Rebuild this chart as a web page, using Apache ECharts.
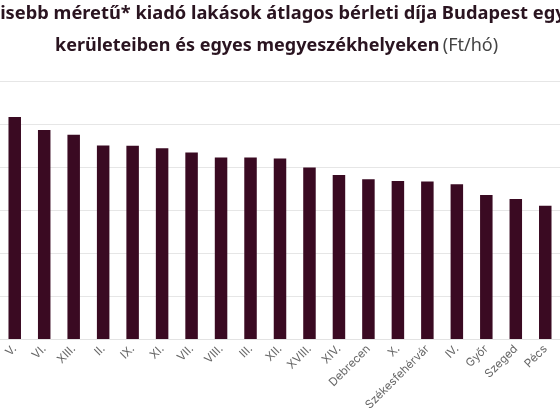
<!DOCTYPE html>
<html><head><meta charset="utf-8">
<script src="https://cdn.jsdelivr.net/npm/echarts@6/dist/echarts.min.js"></script>
<style>html,body{margin:0;padding:0;background:#fff}#c{width:560px;height:420px}</style>
</head><body><div id="c"></div>
<script>
const categories = ['V.','VI.','XIII.','II.','IX.','XI.','VII.','VIII.','III.','XII.','XVIII.','XIV.','Debrecen','X.','Székesfehérvár','IV.','Győr','Szeged','Pécs'];
const rents = [258000,243000,237600,225000,224800,221700,217000,211000,211000,210000,199500,190700,185700,183700,183000,180000,167400,162800,155000];
const chart = echarts.init(document.getElementById('c'));
chart.setOption({
  animation:false,
  graphic:[
    {type:'text',left:-12,top:5,style:{text:'Kisebb méretű* kiadó lakások átlagos bérleti díja Budapest egyes',font:'bold 18.3px "Noto Sans"',fill:'#2a1420'}},
    {type:'text',left:55,top:37,style:{rich:{b:{font:'bold 18px "Noto Sans"',fill:'#2a1420'},n:{font:'18px "Noto Sans"',fill:'#444'}},text:'{b|kerületeiben és egyes megyeszékhelyeken} {n|(Ft/hó)}'}}
  ],
  grid:{left:-12.4,width:608,top:81,height:258,containLabel:false},
  xAxis:{type:'category',data:categories,axisTick:{show:false},axisLine:{lineStyle:{color:'#e3e3e3'}},
    axisLabel:{rotate:45,interval:0,color:'#666',fontSize:11.5,fontFamily:'Inter',margin:8}},
  yAxis:{type:'value',min:0,max:300000,interval:50000,axisLabel:{show:false},
    splitLine:{lineStyle:{color:'#e6e6e6',width:1}}},
  series:[{type:'bar',data:rents,barWidth:12.5,itemStyle:{color:'#3a0a22'}}]
});
</script></body></html>
